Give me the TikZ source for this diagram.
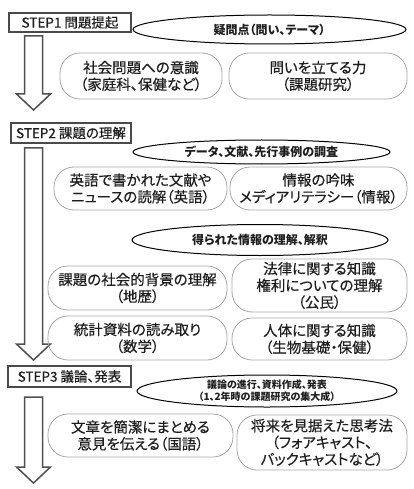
\documentclass[tikz,border=0pt]{standalone}
\usepackage{fontspec}
\setmainfont{Noto Sans CJK JP}[RawFeature={+palt}]
\newfontfamily\medfont{Noto Sans CJK JP}[RawFeature={+palt}, FakeBold=0.4]
\usetikzlibrary{shapes.geometric}
\definecolor{stepgray}{HTML}{4A4A4A}
\definecolor{arrowgray}{HTML}{505050}
\definecolor{pillgray}{HTML}{A6A6A6}
\definecolor{textc}{HTML}{1E1E1E}
\newcommand\blockarr[3]{%
  \draw[blockarrow] (#1-9,#2) -- (#1+9,#2) -- (#1+9,#3-16) -- (#1+17,#3-16) -- (#1,#3) -- (#1-17,#3-16) -- (#1-9,#3-16) -- cycle;}
\begin{document}
\begin{tikzpicture}[x=1pt,y=-1pt,
  stepbox/.style={draw=stepgray, line width=2.4pt, fill=white, inner sep=0pt, text=textc,
    font=\medfont\fontsize{13.5}{15}\selectfont},
  ell/.style={draw=black, line width=1pt, ellipse, inner sep=0pt, align=center, text=textc,
    font=\bfseries\fontsize{12}{14}\selectfont},
  pill/.style={draw=pillgray, line width=0.8pt, rounded corners=20pt, inner sep=0pt, align=center,
    text=textc, font=\medfont\fontsize{14.5}{16.8}\selectfont},
  blockarrow/.style={draw=arrowgray, line width=1.5pt, fill=white, line join=miter}]
\useasboundingbox (0,0) rectangle (414,489);

% arrows
\blockarr{33.5}{36}{110}
\blockarr{33.5}{148}{360}
\blockarr{33.5}{397}{483}

% step boxes
\node[stepbox, minimum width=122pt, minimum height=19pt] (s1) at (70,22.5) {STEP1 問題提起};
\node[stepbox, minimum width=120pt, minimum height=20pt] (s2) at (71,133) {STEP2 課題の理解};
\node[stepbox, minimum width=123pt, minimum height=21pt] (s3) at (69.5,376.5) {STEP3 議論、発表};

% ellipses
\node[ell, minimum width=273pt, minimum height=29pt] (e1) at (269.5,29.5) {疑問点（問い、テーマ）};
\node[ell, minimum width=257pt, minimum height=24pt] (e2) at (261.5,152) {データ、文献、先行事例の調査};
\node[ell, minimum width=256pt, minimum height=31pt] (e3) at (260,240) {得られた情報の理解、解釈};
\node[ell, minimum width=260pt, minimum height=32pt, font=\bfseries\fontsize{10}{12}\selectfont] (e4) at (267,391) {議論の進行、資料作成、発表\\（1、2年時の課題研究の集大成）};

% pills
\node[pill, minimum width=162pt, minimum height=46pt] (p1l) at (141,76) {社会問題への意識\\（家庭科、保健など）};
\node[pill, minimum width=178pt, minimum height=46pt] (p1r) at (318,76) {問いを立てる力\\（課題研究）};
\node[pill, minimum width=173pt, minimum height=43pt] (p2l) at (140.5,188.5) {英語で書かれた文献や\\ニュースの読解（英語）};
\node[pill, minimum width=177pt, minimum height=43pt] (p2r) at (318.5,188.5) {情報の吟味\\メディアリテラシー（情報）};
\node[pill, minimum width=179pt, minimum height=44pt] (p3l) at (137.5,288) {課題の社会的背景の理解\\（地歴）};
\node[pill, minimum width=175pt, minimum height=53pt] (p3r) at (319.5,285.5) {法律に関する知識\\権利についての理解\\（公民）};
\node[pill, minimum width=179pt, minimum height=44pt] (p4l) at (137.5,338) {統計資料の読み取り\\（数学）};
\node[pill, minimum width=175pt, minimum height=42pt] (p4r) at (319.5,339) {人体に関する知識\\（生物基礎・保健）};
\node[pill, minimum width=185pt, minimum height=43pt] (p5l) at (140.5,435.5) {文章を簡潔にまとめる\\意見を伝える（国語）};
\node[pill, minimum width=170pt, minimum height=55pt] (p5r) at (322,442.5) {将来を見据えた思考法\\（フォアキャスト、\\バックキャストなど）};
\end{tikzpicture}
\end{document}
